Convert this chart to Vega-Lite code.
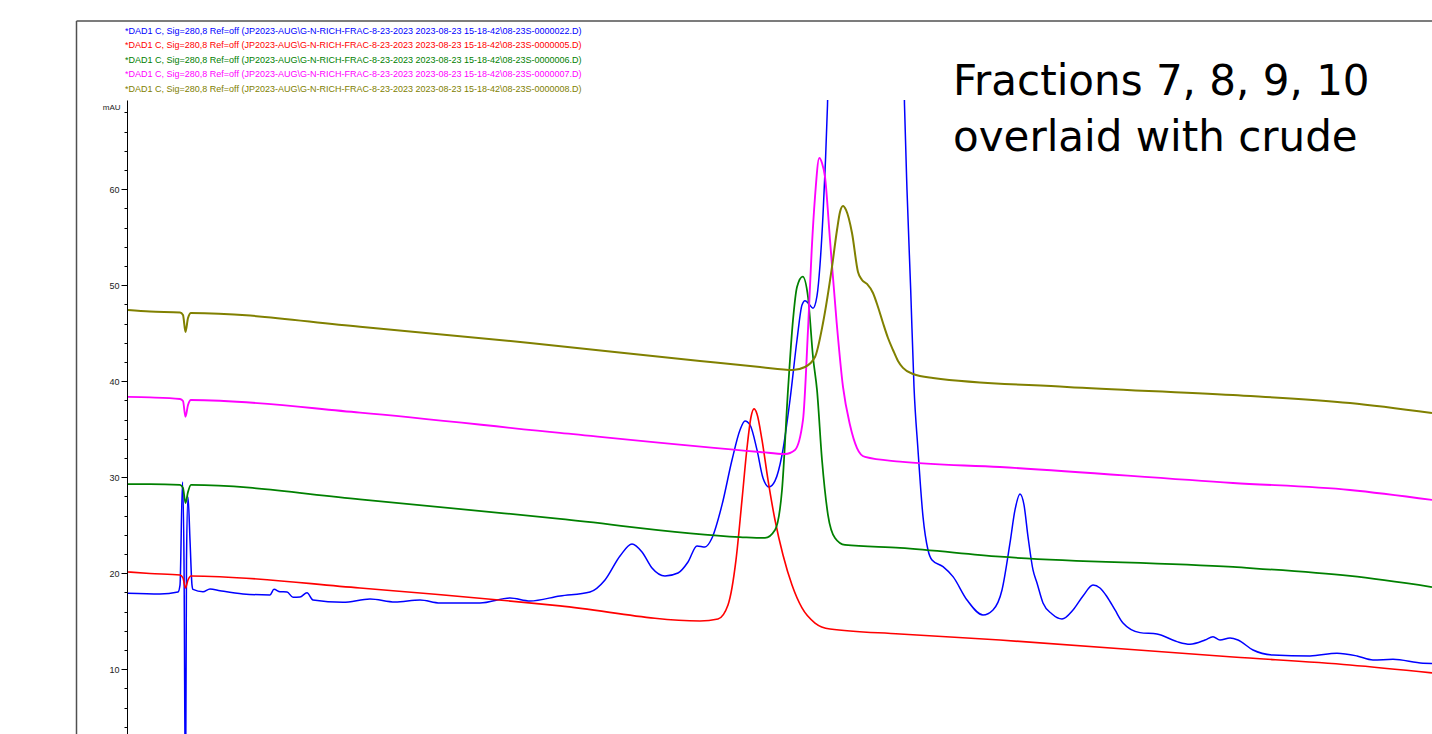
{
 "$schema": "https://vega.github.io/schema/vega-lite/v6.json",
 "width": 1305,
 "height": 634,
 "autosize": {"type": "none"},
 "padding": {"left": 127, "top": 100, "right": 0, "bottom": 0},
 "background": "white",
 "config": {"view": {"stroke": null}},
 "data": {"values": [
  {"s":"0000022","t":0.01,"v":17.92},{"s":"0000022","t":0.33,"v":17.85},{"s":"0000022","t":0.51,"v":18.05},{"s":"0000022","t":0.53,"v":18.77},{"s":"0000022","t":0.555,"v":29.51},{"s":"0000022","t":0.57,"v":21.39},{"s":"0000022","t":0.585,"v":-5},{"s":"0000022","t":0.595,"v":21.39},{"s":"0000022","t":0.61,"v":27.95},{"s":"0000022","t":0.63,"v":23.47},{"s":"0000022","t":0.65,"v":18.77},{"s":"0000022","t":0.66,"v":18.32},{"s":"0000022","t":0.76,"v":18.08},{"s":"0000022","t":0.83,"v":18.37},{"s":"0000022","t":0.93,"v":18.19},{"s":"0000022","t":1.16,"v":17.85},{"s":"0000022","t":1.43,"v":17.74},{"s":"0000022","t":1.47,"v":18.33},{"s":"0000022","t":1.53,"v":18.08},{"s":"0000022","t":1.6,"v":18.05},{"s":"0000022","t":1.66,"v":17.5},{"s":"0000022","t":1.73,"v":17.53},{"s":"0000022","t":1.8,"v":17.98},{"s":"0000022","t":1.86,"v":17.22},{"s":"0000022","t":2.16,"v":16.98},{"s":"0000022","t":2.43,"v":17.32},{"s":"0000022","t":2.68,"v":17.01},{"s":"0000022","t":2.93,"v":17.22},{"s":"0000022","t":3.13,"v":16.91},{"s":"0000022","t":3.53,"v":16.91},{"s":"0000022","t":3.83,"v":17.43},{"s":"0000022","t":4.03,"v":17.12},{"s":"0000022","t":4.33,"v":17.64},{"s":"0000022","t":4.63,"v":18.05},{"s":"0000022","t":4.78,"v":19.3},{"s":"0000022","t":4.93,"v":21.8},{"s":"0000022","t":5.05,"v":23.05},{"s":"0000022","t":5.15,"v":22.22},{"s":"0000022","t":5.25,"v":20.55},{"s":"0000022","t":5.38,"v":19.72},{"s":"0000022","t":5.51,"v":20.03},{"s":"0000022","t":5.61,"v":21.18},{"s":"0000022","t":5.7,"v":22.85},{"s":"0000022","t":5.78,"v":22.74},{"s":"0000022","t":5.85,"v":23.68},{"s":"0000022","t":5.95,"v":27.12},{"s":"0000022","t":6.05,"v":31.8},{"s":"0000022","t":6.13,"v":34.93},{"s":"0000022","t":6.18,"v":35.87},{"s":"0000022","t":6.23,"v":35.45},{"s":"0000022","t":6.3,"v":32.85},{"s":"0000022","t":6.36,"v":29.93},{"s":"0000022","t":6.42,"v":28.99},{"s":"0000022","t":6.48,"v":29.62},{"s":"0000022","t":6.55,"v":32.32},{"s":"0000022","t":6.63,"v":38.05},{"s":"0000022","t":6.7,"v":44.3},{"s":"0000022","t":6.75,"v":47.95},{"s":"0000022","t":6.78,"v":48.4},{"s":"0000022","t":6.82,"v":48.05},{"s":"0000022","t":6.86,"v":47.61},{"s":"0000022","t":6.9,"v":48.89},{"s":"0000022","t":6.93,"v":52.12},{"s":"0000022","t":6.96,"v":57.32},{"s":"0000022","t":6.985,"v":63.05},{"s":"0000022","t":7.005,"v":68.78},{"s":"0000022","t":7.05,"v":90},{"s":"0000022","t":7.18,"v":120},{"s":"0000022","t":7.39,"v":135},{"s":"0000022","t":7.61,"v":120},{"s":"0000022","t":7.73,"v":95},{"s":"0000022","t":7.775,"v":68.78},{"s":"0000022","t":7.8,"v":59.93},{"s":"0000022","t":7.837,"v":49.51},{"s":"0000022","t":7.87,"v":39.44},{"s":"0000022","t":7.91,"v":32.85},{"s":"0000022","t":7.96,"v":25.9},{"s":"0000022","t":8.01,"v":22.43},{"s":"0000022","t":8.05,"v":21.39},{"s":"0000022","t":8.16,"v":20.69},{"s":"0000022","t":8.26,"v":19.65},{"s":"0000022","t":8.4,"v":17.22},{"s":"0000022","t":8.56,"v":15.66},{"s":"0000022","t":8.66,"v":16.18},{"s":"0000022","t":8.75,"v":18.26},{"s":"0000022","t":8.83,"v":23.16},{"s":"0000022","t":8.88,"v":26.6},{"s":"0000022","t":8.93,"v":28.26},{"s":"0000022","t":8.97,"v":27.12},{"s":"0000022","t":9.01,"v":23.82},{"s":"0000022","t":9.06,"v":20.35},{"s":"0000022","t":9.1,"v":18.99},{"s":"0000022","t":9.16,"v":16.91},{"s":"0000022","t":9.25,"v":15.76},{"s":"0000022","t":9.35,"v":15.24},{"s":"0000022","t":9.46,"v":16.18},{"s":"0000022","t":9.56,"v":17.64},{"s":"0000022","t":9.66,"v":18.78},{"s":"0000022","t":9.73,"v":18.47},{"s":"0000022","t":9.8,"v":17.56},{"s":"0000022","t":9.88,"v":16.18},{"s":"0000022","t":9.96,"v":14.82},{"s":"0000022","t":10.13,"v":13.82},{"s":"0000022","t":10.3,"v":13.68},{"s":"0000022","t":10.5,"v":12.88},{"s":"0000022","t":10.63,"v":12.61},{"s":"0000022","t":10.78,"v":13.05},{"s":"0000022","t":10.86,"v":13.4},{"s":"0000022","t":10.93,"v":13.05},{"s":"0000022","t":11.03,"v":13.26},{"s":"0000022","t":11.11,"v":13.05},{"s":"0000022","t":11.26,"v":12.01},{"s":"0000022","t":11.46,"v":11.49},{"s":"0000022","t":11.83,"v":11.39},{"s":"0000022","t":12.1,"v":11.67},{"s":"0000022","t":12.3,"v":11.39},{"s":"0000022","t":12.46,"v":10.97},{"s":"0000022","t":12.66,"v":11.04},{"s":"0000022","t":12.96,"v":10.63},{"s":"0000022","t":13.05,"v":10.61},
  {"s":"0000005","t":0.01,"v":20.14},{"s":"0000005","t":0.23,"v":19.98},{"s":"0000005","t":0.53,"v":19.82},{"s":"0000005","t":0.56,"v":19.51},{"s":"0000005","t":0.585,"v":18.47},{"s":"0000005","t":0.61,"v":19.3},{"s":"0000005","t":0.64,"v":19.72},{"s":"0000005","t":2.33,"v":18.47},{"s":"0000005","t":4.33,"v":16.6},{"s":"0000005","t":5.73,"v":15.03},{"s":"0000005","t":5.91,"v":15.24},{"s":"0000005","t":6.01,"v":16.7},{"s":"0000005","t":6.09,"v":21.39},{"s":"0000005","t":6.15,"v":27.64},{"s":"0000005","t":6.2,"v":33.05},{"s":"0000005","t":6.24,"v":36.28},{"s":"0000005","t":6.27,"v":37.12},{"s":"0000005","t":6.3,"v":36.6},{"s":"0000005","t":6.35,"v":33.89},{"s":"0000005","t":6.41,"v":29.72},{"s":"0000005","t":6.48,"v":25.55},{"s":"0000005","t":6.56,"v":21.91},{"s":"0000005","t":6.65,"v":18.78},{"s":"0000005","t":6.75,"v":16.39},{"s":"0000005","t":6.88,"v":14.82},{"s":"0000005","t":7.03,"v":14.2},{"s":"0000005","t":7.73,"v":13.68},{"s":"0000005","t":8.73,"v":13.05},{"s":"0000005","t":11.06,"v":11.28},{"s":"0000005","t":12.23,"v":10.45},{"s":"0000005","t":13.05,"v":9.62},
  {"s":"0000006","t":0.01,"v":29.3},{"s":"0000006","t":0.23,"v":29.3},{"s":"0000006","t":0.53,"v":29.2},{"s":"0000006","t":0.56,"v":28.89},{"s":"0000006","t":0.585,"v":27.32},{"s":"0000006","t":0.61,"v":28.47},{"s":"0000006","t":0.64,"v":29.2},{"s":"0000006","t":2.33,"v":27.71},{"s":"0000006","t":4.33,"v":25.66},{"s":"0000006","t":6.13,"v":23.78},{"s":"0000006","t":6.38,"v":23.68},{"s":"0000006","t":6.48,"v":24.51},{"s":"0000006","t":6.55,"v":28.68},{"s":"0000006","t":6.61,"v":39.1},{"s":"0000006","t":6.66,"v":46.39},{"s":"0000006","t":6.7,"v":49.82},{"s":"0000006","t":6.757,"v":50.9},{"s":"0000006","t":6.81,"v":48.78},{"s":"0000006","t":6.86,"v":42.53},{"s":"0000006","t":6.9,"v":39.1},{"s":"0000006","t":6.95,"v":31.8},{"s":"0000006","t":7.01,"v":26.07},{"s":"0000006","t":7.08,"v":23.68},{"s":"0000006","t":7.18,"v":22.95},{"s":"0000006","t":7.73,"v":22.64},{"s":"0000006","t":8.73,"v":21.73},{"s":"0000006","t":11.06,"v":20.66},{"s":"0000006","t":12.23,"v":19.72},{"s":"0000006","t":13.05,"v":18.57},
  {"s":"0000007","t":0.01,"v":38.37},{"s":"0000007","t":0.23,"v":38.32},{"s":"0000007","t":0.53,"v":38.16},{"s":"0000007","t":0.56,"v":37.95},{"s":"0000007","t":0.585,"v":36.31},{"s":"0000007","t":0.61,"v":37.53},{"s":"0000007","t":0.64,"v":38.05},{"s":"0000007","t":2.33,"v":36.73},{"s":"0000007","t":4.33,"v":34.62},{"s":"0000007","t":6.33,"v":32.64},{"s":"0000007","t":6.58,"v":32.43},{"s":"0000007","t":6.68,"v":32.85},{"s":"0000007","t":6.76,"v":35.97},{"s":"0000007","t":6.81,"v":45.35},{"s":"0000007","t":6.847,"v":53.68},{"s":"0000007","t":6.88,"v":59.2},{"s":"0000007","t":6.923,"v":63.26},{"s":"0000007","t":6.95,"v":62.74},{"s":"0000007","t":6.98,"v":61.28},{"s":"0000007","t":7.03,"v":54.72},{"s":"0000007","t":7.097,"v":46.07},{"s":"0000007","t":7.16,"v":39.41},{"s":"0000007","t":7.23,"v":35.45},{"s":"0000007","t":7.3,"v":33.05},{"s":"0000007","t":7.38,"v":32.12},{"s":"0000007","t":7.73,"v":31.63},{"s":"0000007","t":8.73,"v":31.07},{"s":"0000007","t":11.06,"v":29.41},{"s":"0000007","t":12.23,"v":28.68},{"s":"0000007","t":13.05,"v":27.64},
  {"s":"0000008","t":0.01,"v":47.43},{"s":"0000008","t":0.23,"v":47.27},{"s":"0000008","t":0.53,"v":47.17},{"s":"0000008","t":0.56,"v":46.91},{"s":"0000008","t":0.585,"v":45.14},{"s":"0000008","t":0.61,"v":46.6},{"s":"0000008","t":0.64,"v":47.12},{"s":"0000008","t":2.33,"v":45.69},{"s":"0000008","t":4.03,"v":43.99},{"s":"0000008","t":5.73,"v":42.12},{"s":"0000008","t":6.33,"v":41.49},{"s":"0000008","t":6.66,"v":41.18},{"s":"0000008","t":6.78,"v":41.49},{"s":"0000008","t":6.88,"v":42.53},{"s":"0000008","t":6.96,"v":46.07},{"s":"0000008","t":7.05,"v":51.91},{"s":"0000008","t":7.1,"v":55.76},{"s":"0000008","t":7.13,"v":57.64},{"s":"0000008","t":7.16,"v":58.26},{"s":"0000008","t":7.19,"v":57.85},{"s":"0000008","t":7.25,"v":55.45},{"s":"0000008","t":7.31,"v":51.39},{"s":"0000008","t":7.35,"v":50.55},{"s":"0000008","t":7.4,"v":50.14},{"s":"0000008","t":7.46,"v":49.2},{"s":"0000008","t":7.51,"v":47.74},{"s":"0000008","t":7.56,"v":46.07},{"s":"0000008","t":7.61,"v":44.51},{"s":"0000008","t":7.66,"v":43.26},{"s":"0000008","t":7.71,"v":42.12},{"s":"0000008","t":7.76,"v":41.39},{"s":"0000008","t":7.86,"v":40.76},{"s":"0000008","t":8.06,"v":40.35},{"s":"0000008","t":9.4,"v":39.41},{"s":"0000008","t":11.06,"v":38.57},{"s":"0000008","t":12.23,"v":37.74},{"s":"0000008","t":13.05,"v":36.7}
 ]},
 "layer": [
  {
   "mark": {"type": "line", "clip": true, "interpolate": "monotone"},
   "encoding": {
    "x": {"field": "t", "type": "quantitative", "scale": {"domain": [0, 13.05], "nice": false, "zero": false}, "axis": null},
    "y": {"field": "v", "type": "quantitative", "scale": {"domain": [3.26, 69.3], "nice": false, "zero": false},
     "axis": {"values": [4,6,8,10,12,14,16,18,20,22,24,26,28,30,32,34,36,38,40,42,44,46,48,50,52,54,56,58,60,62,64,66,68],
      "tickCount": 100,
      "labelExpr": "datum.value % 10 === 0 ? format(datum.value, 'd') : ''",
      "labelOverlap": false, "labelBound": false, "labelFlush": false,
      "tickSize": {"condition": {"test": "datum.value % 10 === 0", "value": 6}, "value": 3},
      "grid": false, "domainColor": "#000000", "tickColor": "#000000", "domainWidth": 1, "tickWidth": 1,
      "labelFont": "Liberation Sans", "labelFontSize": 9, "labelColor": "#222222", "labelPadding": 2,
      "title": "mAU", "titleAngle": 0, "titleX": -7, "titleY": 7, "titleAlign": "right", "titleBaseline": "middle",
      "titleFont": "Liberation Sans", "titleFontSize": 8, "titleFontWeight": "normal", "titleColor": "#222222"}},
    "color": {"field": "s", "type": "nominal",
     "scale": {"domain": ["0000022","0000005","0000006","0000007","0000008"], "range": ["#0000ff","#ff0000","#008000","#ff00ff","#808000"]},
     "legend": {"orient": "none", "legendX": -11, "legendY": -74, "title": null, "padding": 0,
      "symbolSize": 0, "symbolOpacity": 0, "symbolStrokeWidth": 0, "labelOffset": 0,
      "labelFont": "Liberation Sans", "labelFontSize": 9, "labelLimit": 0, "rowPadding": 4.6,
      "labelColor": {"expr": "scale('color', datum.value)"},
      "labelExpr": "'*DAD1 C, Sig=280,8 Ref=off (JP2023-AUG\\\\G-N-RICH-FRAC-8-23-2023 2023-08-23 15-18-42\\\\08-23S-' + datum.label + '.D)'"}},
    "strokeWidth": {"field": "s", "type": "nominal", "scale": {"domain": ["0000022","0000005","0000006","0000007","0000008"], "range": [1.5, 2, 2, 2, 2]}, "legend": null}
   }
  },
  {
   "data": {"values": [{}]},
   "mark": {"type": "rule", "clip": false, "color": "#505050", "strokeWidth": 1.5},
   "encoding": {"x": {"datum": -0.505, "type": "quantitative"}, "y": {"datum": 77.53, "type": "quantitative"}, "y2": {"datum": -20}}
  },
  {
   "data": {"values": [{}]},
   "mark": {"type": "rule", "clip": false, "color": "#505050", "strokeWidth": 1.5},
   "encoding": {"y": {"datum": 77.53, "type": "quantitative"}, "x": {"datum": -0.505, "type": "quantitative"}, "x2": {"datum": 14}}
  },
  {
   "data": {"values": [{}]},
   "mark": {"type": "text", "clip": false, "text": ["Fractions 7, 8, 9, 10", "overlaid with crude"], "font": "DejaVu Sans", "fontSize": 42, "lineHeight": 56, "align": "left", "baseline": "alphabetic", "color": "#000000"},
   "encoding": {"x": {"datum": 8.26, "type": "quantitative"}, "y": {"datum": 69.83, "type": "quantitative"}}
  }
 ]
}
